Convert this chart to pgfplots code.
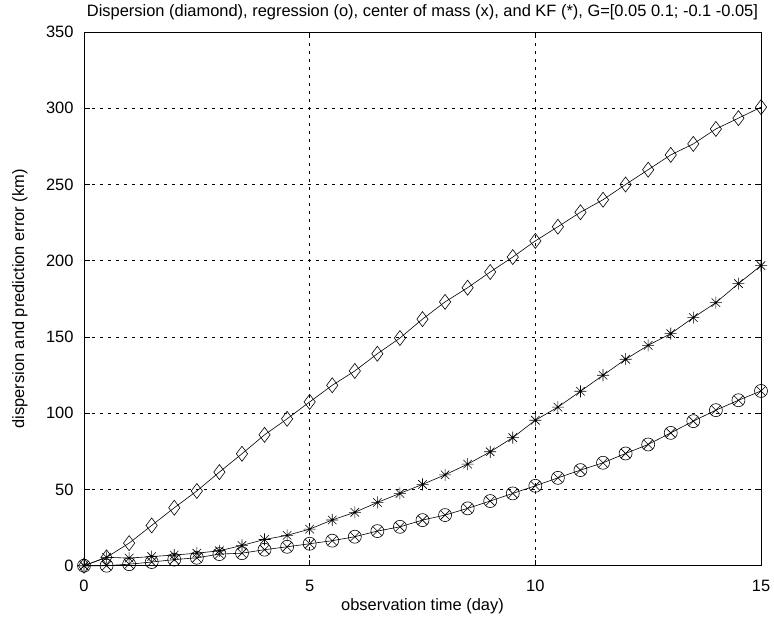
\documentclass[border=0pt]{standalone}
\usepackage{fontspec}
\setmainfont{Liberation Sans}
\usepackage{pgfplots}
\pgfplotsset{compat=1.18}
\pgfdeclareplotmark{mstar}{%
  \pgfpathmoveto{\pgfqpoint{-\pgfplotmarksize}{0pt}}\pgfpathlineto{\pgfqpoint{\pgfplotmarksize}{0pt}}%
  \pgfpathmoveto{\pgfqpoint{0pt}{-\pgfplotmarksize}}\pgfpathlineto{\pgfqpoint{0pt}{\pgfplotmarksize}}%
  \pgfpathmoveto{\pgfqpoint{-.7071\pgfplotmarksize}{-.7071\pgfplotmarksize}}\pgfpathlineto{\pgfqpoint{.7071\pgfplotmarksize}{.7071\pgfplotmarksize}}%
  \pgfpathmoveto{\pgfqpoint{-.7071\pgfplotmarksize}{.7071\pgfplotmarksize}}\pgfpathlineto{\pgfqpoint{.7071\pgfplotmarksize}{-.7071\pgfplotmarksize}}%
  \pgfusepathqstroke}
\pgfplotstableread{
x    D      K      O
0    0      0      0
0.5  5.5    5.5    0
1    14.8   5.0    1.0
1.5  26.4   6.0    2.4
2    38.0   7.0    4.0
2.5  49.0   8.2    5.2
3    61.4   9.8    7.6
3.5  73.4   13.3   8.2
4    85.8   17.2   10.5
4.5  96.3   19.9   12.4
5    107.4  24.0   14.4
5.5  118.3  30.0   16.4
6    127.7  35.0   19.0
6.5  139.0  41.5   22.7
7    149.3  47.4   25.5
7.5  161.7  53.3   29.9
8    173.0  59.6   33.2
8.5  182.3  66.6   37.6
9    192.6  74.7   42.4
9.5  202.4  84.0   47.4
10   213.0  95.4   52.4
10.5 222.3  104.0  57.6
11   231.8  114.4  62.7
11.5 240.0  124.9  67.5
12   250.0  135.4  73.6
12.5 259.7  144.5  79.5
13   269.4  152.2  87.1
13.5 276.6  162.7  94.8
14   286.4  172.5  102.0
14.5 293.5  185.0  108.5
15   300.7  196.8  114.6
}\datatable
\begin{document}
\begin{tikzpicture}
\begin{axis}[
  at={(0,0)}, anchor=south west,
  scale only axis, width=677bp, height=533.7bp,
  xmin=0, xmax=15, ymin=0, ymax=350,
  xtick={0,5,10,15}, ytick={0,50,...,350},
  tick align=inside, major tick length=6bp,
  xmajorgrids, ymajorgrids,
  grid style={black, line width=0.5bp, dash pattern=on 3bp off 5bp},
  axis line style={line width=0.8bp},
  every tick/.style={black, line width=0.6bp},
  /pgf/number format/assume math mode=true,
  ticklabel style={font=\fontsize{16.5}{18}\selectfont},
  xticklabel style={yshift=-11bp},
  yticklabel style={xshift=-7bp},
  title={Dispersion (diamond), regression (o), center of mass (x), and KF (*), G=[0.05 0.1; -0.1 -0.05]},
  title style={at={(axis description cs:0.5,1.0169)}, anchor=base, font=\fontsize{16.5}{18}\selectfont},
  xlabel={observation time (day)},
  xlabel style={at={(axis description cs:0.5,-0.0843)}, anchor=base, font=\fontsize{16.5}{18}\selectfont},
  ylabel={dispersion and prediction error (km)},
  ylabel style={at={(axis description cs:-0.0886,0.5)}, anchor=base, font=\fontsize{16.5}{18}\selectfont},
  clip=false,
]
\addplot[black, line width=0.6bp, mark=diamond, mark size=7.5bp, mark options={solid, line width=0.6bp}] table[x=x,y=D] {\datatable};
\addplot[black, line width=0.6bp, mark=mstar, mark size=6bp, mark options={solid, line width=0.6bp}] table[x=x,y=K] {\datatable};
\addplot[black, line width=0.6bp, mark=o, mark size=6.5bp, mark options={solid, line width=0.6bp}] table[x=x,y=O] {\datatable};
\addplot[black, only marks, mark=x, mark size=6.5bp, mark options={solid, line width=0.6bp}] table[x=x,y=O] {\datatable};
\end{axis}
\pgfresetboundingbox
\useasboundingbox (-84bp,-56.3bp) rectangle (690bp,565.7bp);
\end{tikzpicture}
\end{document}
